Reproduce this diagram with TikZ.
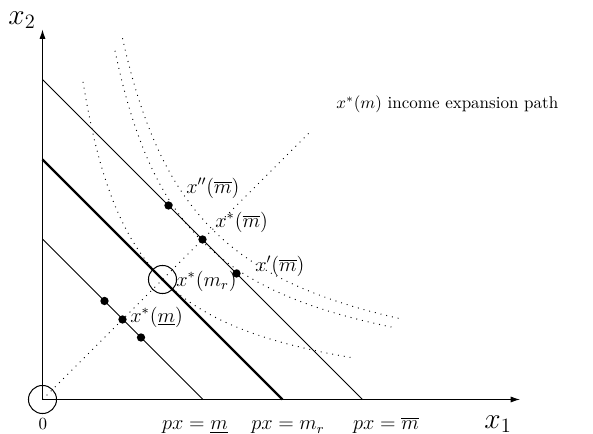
\documentclass[tikz,border=0pt]{standalone}
\usetikzlibrary{arrows.meta}
\begin{document}
\begin{tikzpicture}[x=0.5882pt, y=0.5882pt,
  thinline/.style={line width=0.6pt},
  thickline/.style={line width=1.3pt},
  dotline/.style={line width=0.55pt, dash pattern=on 0.55pt off 2.9pt},
  bdot/.style={circle, fill=black, inner sep=0pt, minimum size=4.9pt},
  sdot/.style={circle, fill=black, inner sep=0pt, minimum size=1.8pt},
  ring/.style={circle, draw, line width=0.6pt, inner sep=0pt, minimum size=16.5pt},
  lbl/.style={inner sep=0pt, anchor=west, font=\large},
  blbl/.style={inner sep=0pt, anchor=base, font=\large},
  axis/.style={line width=0.6pt, -{Latex[length=5.5pt,width=3.6pt]}}
]
\useasboundingbox (-42.5,-34.5) rectangle (550.5,399.5);
% axes
\coordinate (O) at (0,0);
\coordinate (Xend) at (477.5,0);
\coordinate (Yend) at (0,370);
\draw[axis] (O) -- (Xend);
\draw[axis] (O) -- (Yend);
\node[ring] (Oring) at (O) {};
% budget lines
\coordinate (L1a) at (0,160.5); \coordinate (L1b) at (160.5,0);
\coordinate (L2a) at (0,240);   \coordinate (L2b) at (240,0);
\coordinate (L3a) at (0,320);   \coordinate (L3b) at (320,0);
\draw[thinline] (L1a) -- (L1b);
\draw[thickline] (L2a) -- (L2b);
\draw[thinline] (L3a) -- (L3b);
% expansion path
\coordinate (E) at (267,267);
\draw[dotline] (O) -- (E);
% indifference curves
\draw[dotline] plot[domain=40.5:309, samples=90] (\x, {133*(133/(\x+13))-13});
\draw[dotline] plot[domain=72.5:352.5, samples=90] (\x, {159*(159/\x)});
\draw[dotline] plot[domain=80:357, samples=90] (\x, {170*(170/\x)});
% points
\node[bdot] (ppp) at (126,194) {};
\node[bdot] (ps) at (160,160) {};
\node[bdot] (pp) at (194,126) {};
\node[sdot] (pr) at (120,120) {};
\node[ring] (prring) at (120,120) {};
\node[bdot] (q1) at (62,98.5) {};
\node[bdot] (q2) at (80,80) {};
\node[bdot] (q3) at (98.5,62) {};
% labels
\node[lbl] (tppp) at (143.5,211.5) {$x''(\overline{m})$};
\node[lbl] (tps) at (172.5,177.5) {$x^*(\overline{m})$};
\node[lbl] (tpp) at (212.5,133.5) {$x'(\overline{m})$};
\node[lbl] (tpr) at (133.5,118.5) {$x^*(m_r)$};
\node[lbl] (tq) at (87.5,82.5) {$x^*(\underline{m})$};
\node[inner sep=0pt, anchor=west] (tpath) at (293.5,295.5) {$x^*(m)$ income expansion path};
\node[inner sep=0pt, anchor=base] (t0) at (0.5,-30.5) {$0$};
\node[blbl] (tb1) at (152.5,-30.5) {$px=\underline{m}$};
\node[blbl] (tb2) at (245.5,-30.5) {$px=m_r$};
\node[blbl] (tb3) at (343.5,-30.5) {$px=\overline{m}$};
\node[inner sep=0pt] (tx1) at (455.5,-24.5) {\LARGE $x_1$};
\node[inner sep=0pt] (tx2) at (-20.5,379.5) {\LARGE $x_2$};
\end{tikzpicture}
\end{document}
